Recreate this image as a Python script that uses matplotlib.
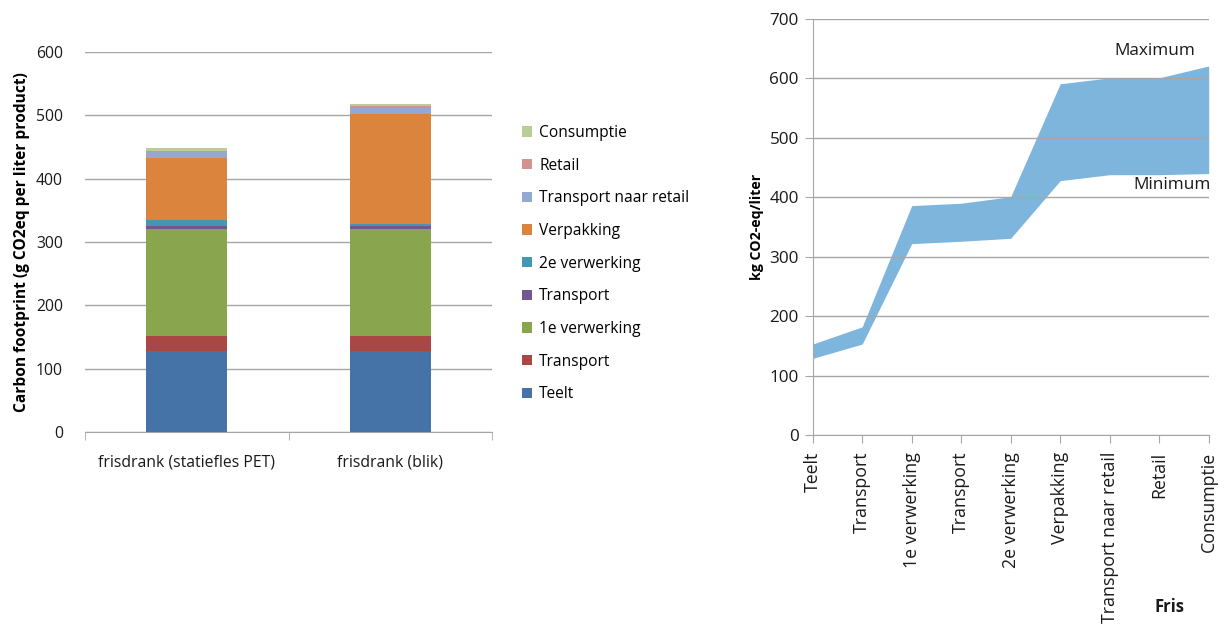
import matplotlib

matplotlib.use("Agg")
import matplotlib.pyplot as plt
import numpy as np

plt.rcParams["font.family"] = ["Open Sans", "DejaVu Sans"]

# left chart: stacked carbon footprint per product (g CO2eq per liter)
products = ["frisdrank (statiefles PET)", "frisdrank (blik)"]
stages = ["Teelt", "Transport", "1e verwerking", "Transport", "2e verwerking",
          "Verpakking", "Transport naar retail", "Retail", "Consumptie"]
stage_colors = ["#4572A7", "#AA4643", "#89A54E", "#71588F", "#4198AF",
                "#DB843D", "#93A9CF", "#D19392", "#B9CD96"]
pet_values = [128, 23, 169, 4.5, 10.5, 98, 9.5, 1, 4.5]
blik_values = [128, 23, 169, 4.5, 4, 173.5, 9.5, 2.5, 4]

# right chart: cumulative range over the chain (kg CO2-eq/liter)
chain_steps = ["Teelt", "Transport", "1e verwerking", "Transport", "2e verwerking",
               "Verpakking", "Transport naar retail", "Retail", "Consumptie"]
range_max = [153, 182, 386, 390, 401, 591, 601, 601, 621]
range_min = [129, 153, 322, 326, 331, 428, 438, 438, 440]

grid_color = "#A6A6A6"
text_color = "#1a1a1a"

fig = plt.figure(figsize=(12.27, 6.26), dpi=100)

# ---- left: stacked bars
ax1 = fig.add_axes([85 / 1227, 1 - 432 / 626, 407 / 1227, 380 / 626])
x = np.arange(len(products))
bottoms = np.zeros(len(products))
handles = []
for i, name in enumerate(stages):
    vals = np.array([pet_values[i], blik_values[i]])
    h = ax1.bar(x, vals, width=0.40, bottom=bottoms, color=stage_colors[i],
                label=name, zorder=3)
    handles.append(h)
    bottoms += vals

ax1.set_xlim(-0.5, 1.5)
ax1.set_ylim(0, 600)
ax1.set_yticks(np.arange(0, 601, 100))
ax1.set_xticks(x)
ax1.set_xticklabels(products)
# tick marks sit between the categories, labels stay centred under the bars
ax1.set_xticks([-0.5, 0.5, 1.5], minor=True)
ax1.tick_params(axis="x", which="major", length=0, pad=16, labelsize=11.3, colors=text_color)
ax1.tick_params(axis="x", which="minor", length=6, color=grid_color, direction="out")
ax1.tick_params(axis="y", length=0, pad=16, labelsize=11.3, colors=text_color)
ax1.grid(axis="y", color=grid_color, linewidth=1, zorder=0)
for s in ["top", "right", "left"]:
    ax1.spines[s].set_visible(False)
ax1.spines["bottom"].set_color(grid_color)
ax1.set_ylabel("Carbon footprint (g CO2eq per liter product)", fontsize=11.2,
               fontweight="bold", labelpad=4)

leg = fig.legend(handles[::-1], stages[::-1], loc="upper left",
                 bbox_to_anchor=(508 / 1227, 1 - 111 / 626), frameon=False,
                 fontsize=11.2, handlelength=0.65, handleheight=0.65,
                 handletextpad=0.45, labelspacing=1.07)

# ---- right: min-max band
ax2 = fig.add_axes([812.7 / 1227, 1 - 435 / 626, 396 / 1227, 416 / 626])
xs = np.arange(len(chain_steps))
ax2.fill_between(xs, range_min, range_max, color="#7EB5DC", linewidth=0, zorder=1)
ax2.set_xlim(0, len(chain_steps) - 1)
ax2.set_ylim(0, 700)
ax2.set_yticks(np.arange(0, 701, 100))
ax2.set_xticks(xs)
ax2.set_xticklabels(chain_steps, rotation=90)
ax2.tick_params(axis="x", length=6, color=grid_color, pad=6, labelsize=12.8, colors=text_color)
ax2.tick_params(axis="x", color=grid_color)
ax2.tick_params(axis="y", length=6, color=grid_color, pad=4, labelsize=12.3, labelcolor=text_color)
ax2.grid(axis="y", color=grid_color, linewidth=1, zorder=2)
ax2.set_axisbelow(False)
for s in ["top", "right"]:
    ax2.spines[s].set_visible(False)
ax2.spines["left"].set_color(grid_color)
ax2.spines["bottom"].set_color(grid_color)
ax2.set_ylabel("kg CO2-eq/liter", fontsize=10.2, fontweight="bold", labelpad=4)

ax2.text(6.92, 646, "Maximum", ha="center", va="center", fontsize=12.4, color=text_color)
ax2.text(7.26, 421, "Minimum", ha="center", va="center", fontsize=12.4, color=text_color)
fig.text(1170 / 1227, 1 - 607 / 626, "Fris", ha="center", va="center",
         fontsize=12, fontweight="bold", color=text_color)

fig.savefig("out.png", dpi=100)
